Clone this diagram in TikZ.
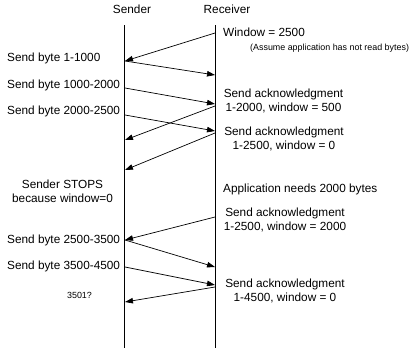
\documentclass[tikz,border=0pt]{standalone}
\usepackage{fontspec}
\setmainfont{Liberation Sans}
\usetikzlibrary{arrows.meta}

\begin{document}
\begin{tikzpicture}[x=1pt, y=-1pt,
    lbl/.style={font=\fontsize{11.8}{14}\selectfont, inner sep=0pt},
    ack/.style={lbl, align=center},
    note/.style={font=\fontsize{8.9}{11}\selectfont, inner sep=0pt},
    life/.style={line width=0.9pt},
    msg/.style={line width=0.7pt, -{Triangle[length=8pt,width=5.5pt]}}]
  \useasboundingbox (0,0) rectangle (415,356);
  % headers
  \node[lbl] (snd) at (132,9) {Sender};
  \node[lbl] (rcv) at (227,9) {Receiver};
  % lifelines
  \coordinate (stop) at (124.5,25);
  \coordinate (sbot) at (124.5,348);
  \coordinate (rtop) at (215,25);
  \coordinate (rbot) at (215,348);
  \draw[life] (stop) -- (sbot);
  \draw[life] (rtop) -- (rbot);
  % points on the sender line
  \coordinate (s1) at (125,61);
  \coordinate (s2) at (125,88);
  \coordinate (s3) at (125,140);
  \coordinate (s4) at (125,115);
  \coordinate (s5) at (125,170);
  \coordinate (s6) at (125,240);
  \coordinate (s7) at (125,267);
  \coordinate (s8) at (125,302);
  % points on the receiver line
  \coordinate (r1) at (215,33);
  \coordinate (r2) at (215,75);
  \coordinate (r3) at (215,104);
  \coordinate (r4) at (215,106);
  \coordinate (r5) at (215,131);
  \coordinate (r6) at (215,133);
  \coordinate (r7) at (215,217);
  \coordinate (r8) at (215,267);
  \coordinate (r9) at (215,285);
  \coordinate (r10) at (215,287);
  % messages
  \draw[msg] (r1) -- (s1);
  \draw[msg] (s1) -- (r2);
  \draw[msg] (s2) -- (r3);
  \draw[msg] (r4) -- (s3);
  \draw[msg] (s4) -- (r5);
  \draw[msg] (r6) -- (s5);
  \draw[msg] (r7) -- (s6);
  \draw[msg] (s6) -- (r8);
  \draw[msg] (s7) -- (r9);
  \draw[msg] (r10) -- (s8);
  % sender side labels
  \node[lbl, anchor=west] (b1) at (7,58) {Send byte 1-1000};
  \node[lbl, anchor=west] (b2) at (7,85) {Send byte 1000-2000};
  \node[lbl, anchor=west] (b3) at (7,111) {Send byte 2000-2500};
  \node[ack] (stp) at (62.5,191.5) {Sender STOPS\\because window=0};
  \node[lbl, anchor=west] (b4) at (7,240) {Send byte 2500-3500};
  \node[lbl, anchor=west] (b5) at (7,266) {Send byte 3500-4500};
  \node[note] (q) at (79.5,295) {3501?};
  % receiver side labels
  \node[lbl, anchor=west] (win) at (223,32) {Window = 2500};
  \node[note, anchor=west] (asm) at (250,48) {(Assume application has not read bytes)};
  \node[ack] (a1) at (283.5,100.5) {Send acknowledgment\\1-2000, window = 500};
  \node[ack] (a2) at (284,138.5) {Send acknowledgment\\1-2500, window = 0};
  \node[lbl, anchor=west] (app) at (223,189) {Application needs 2000 bytes};
  \node[ack] (a3) at (285,219.5) {Send acknowledgment\\1-2500, window = 2000};
  \node[ack] (a4) at (285,291) {Send acknowledgment\\1-4500, window = 0};
\end{tikzpicture}
\end{document}
